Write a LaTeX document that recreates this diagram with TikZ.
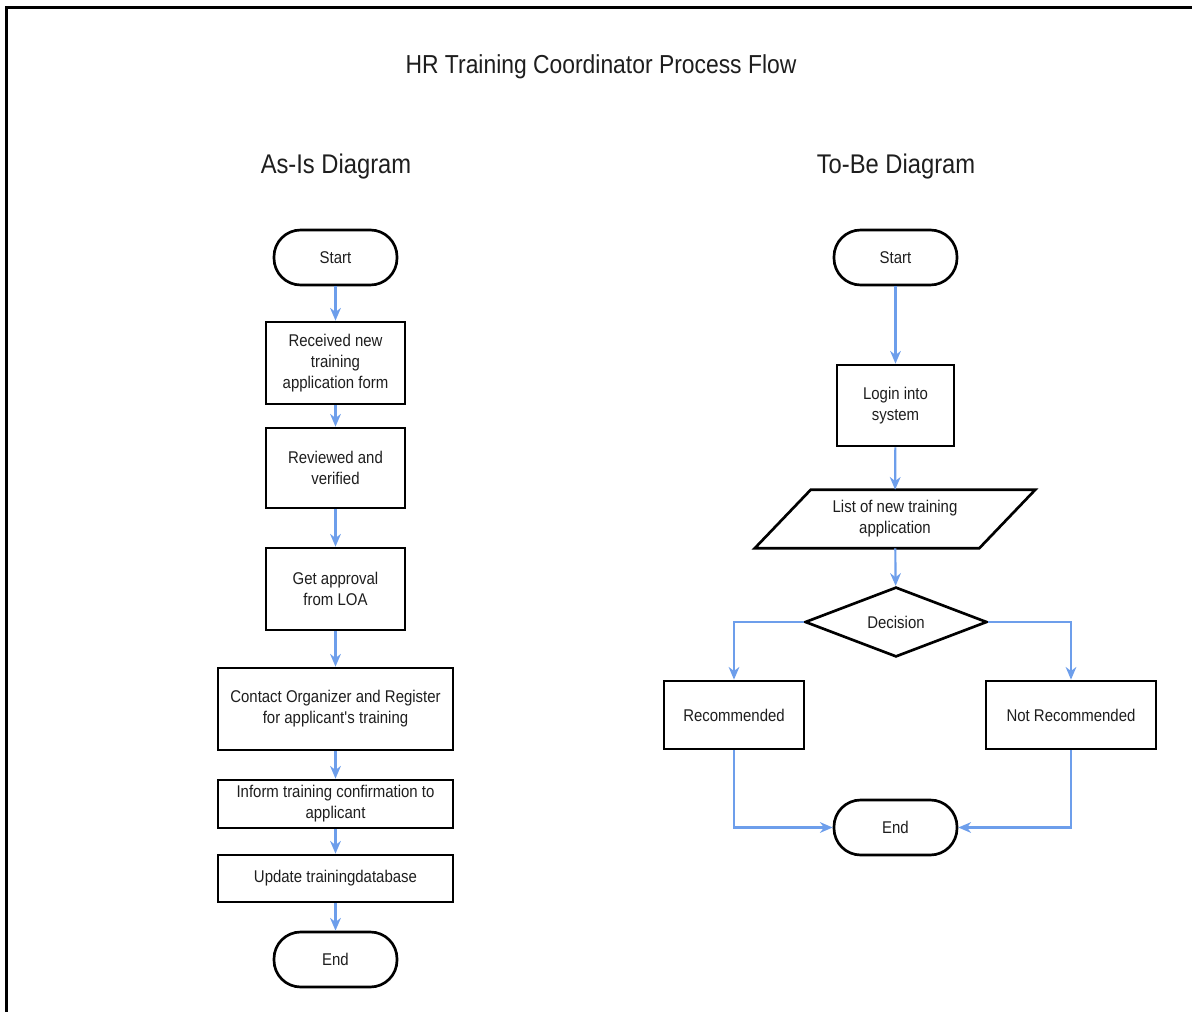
\documentclass[tikz,border=0pt]{standalone}
\usepackage{fontspec}
\setmainfont[FakeStretch=0.88]{Liberation Sans}
\usetikzlibrary{arrows.meta,shapes.geometric,calc}
\definecolor{flowblue}{HTML}{6D9EEB}
\definecolor{inkgray}{HTML}{1E1E1E}
\tikzset{
  boxtext/.style={font=\fontsize{12.75pt}{15.75pt}\selectfont, text=inkgray, align=center},
  procbox/.style={boxtext, draw=black, line width=2pt, rectangle, inner sep=0pt},
  termbox/.style={boxtext, draw=black, line width=2pt, rectangle, rounded corners=20pt,
    inner sep=0pt, minimum width=92.25pt, minimum height=41.25pt},
  decbox/.style={boxtext, draw=black, line width=2pt, diamond, inner sep=0pt,
    minimum width=136.5pt, minimum height=48.75pt},
  flow/.style={draw=flowblue, line width=1.6pt,
    -{Stealth[length=9.5pt,width=8pt,inset=3pt]}},
  heading/.style={text=inkgray, font=\fontsize{20.25pt}{24pt}\selectfont},
}
\begin{document}
\begin{tikzpicture}[x=0.75pt,y=-0.75pt]
\useasboundingbox (0,0) rectangle (1192,1012);
% frame
\draw[line width=2.3pt, black] (6.5,1012) -- (6.5,7.5) -- (1192,7.5);

% headings
\node[text=inkgray, font=\fontsize{19.5pt}{23pt}\selectfont] (title) at (601,66.5) {HR Training Coordinator Process Flow};
\node[heading] (asis) at (336,166.5) {As-Is Diagram};
\node[heading] (tobe) at (896,166.5) {To-Be Diagram};

% As-Is column
\node[termbox] (s1) at (335.5,257.5) {Start};
\node[procbox, minimum width=104.25pt, minimum height=61.5pt] (a1) at (335.5,363) {Received new\\training\\application form};
\node[procbox, minimum width=104.25pt, minimum height=60pt] (a2) at (335.5,468) {Reviewed and\\verified};
\node[procbox, minimum width=104.25pt, minimum height=61.5pt] (a3) at (335.5,589) {Get approval\\from LOA};
\node[procbox, minimum width=176.25pt, minimum height=61.5pt] (a4) at (335.5,709) {Contact Organizer and Register\\for applicant\textquotesingle s training};
\node[procbox, minimum width=176.25pt, minimum height=36pt] (a5) at (335.5,804) {Inform training confirmation to\\applicant};
\node[procbox, minimum width=176.25pt, minimum height=35.25pt] (a6) at (335.5,878.5) {Update trainingdatabase};
\node[termbox] (e1) at (335.5,959.5) {End};

\draw[flow] (s1) -- (a1);
\draw[flow] (a1) -- (a2);
\draw[flow] (a2) -- (a3);
\draw[flow] (a3) -- (a4);
\draw[flow] (a4) -- (a5);
\draw[flow] (a5) -- (a6);
\draw[flow] (a6) -- (e1);

% To-Be column
\node[termbox] (s2) at (895.5,257.5) {Start};
\node[procbox, minimum width=87.75pt, minimum height=60.75pt] (b1) at (895.5,405.5) {Login into\\system};
\node[boxtext, inner sep=0pt, minimum width=168pt, minimum height=43.5pt] (b2) at (895,519) {List of new training\\application};
\draw[black, line width=2pt, line join=miter]
  ($(b2.north west)+(28,0)$) -- ($(b2.north east)+(28,0)$) --
  ($(b2.south east)+(-28,0)$) -- ($(b2.south west)+(-28,0)$) -- cycle;
\node[decbox] (d) at (896,622) {Decision};
\node[procbox, minimum width=105pt, minimum height=51pt] (r) at (734,715) {Recommended};
\node[procbox, minimum width=127.5pt, minimum height=51pt] (nr) at (1071,715) {Not Recommended};
\node[termbox] (e2) at (895.5,827.5) {End};

\draw[flow] (s2) -- (b1);
\draw[flow] (b1) -- (b2);
\draw[flow] (b2) -- (d);
\draw[flow] (d.west) -| (r.north);
\draw[flow] (d.east) -| (nr.north);
\draw[flow] (r.south) |- (e2.west);
\draw[flow] (nr.south) |- (e2.east);
\end{tikzpicture}
\end{document}
